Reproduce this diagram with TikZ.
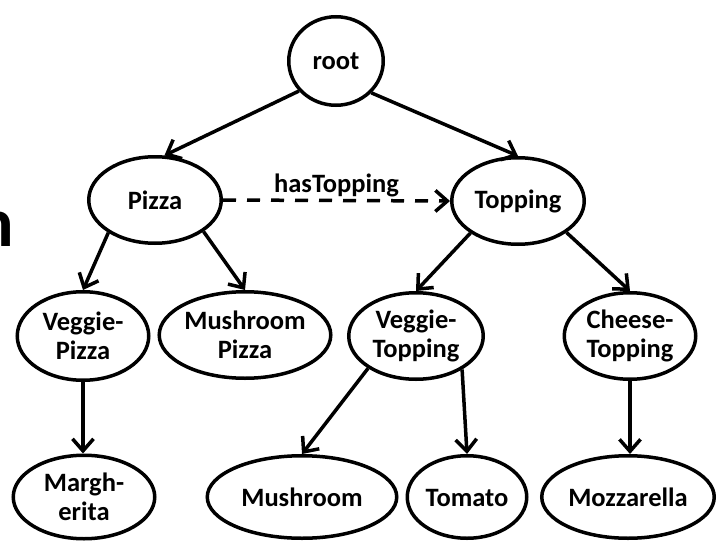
\documentclass[tikz,border=0pt]{standalone}
\usepackage{fontspec}
\setmainfont{Carlito}
\usetikzlibrary{arrows.meta,shapes.geometric}

\tikzset{
  concept/.style={draw=black, line width=3.5pt, ellipse, inner sep=0pt,
    align=center, font=\bfseries\fontsize{26.5}{29}\selectfont},
  isa/.style={line width=3.5pt, -{Straight Barb[length=12pt,width=21pt]}},
  relation/.style={isa, dash pattern=on 13pt off 11pt},
  relname/.style={font=\bfseries\fontsize{26.5}{29}\selectfont, inner sep=2pt}
}

\begin{document}
\begin{tikzpicture}[x=1pt, y=-1pt]
  \useasboundingbox (0,0) rectangle (720,543);

  % partly visible letter at the left border
  \node[font=\bfseries\fontsize{70}{70}\selectfont, anchor=base east, inner sep=0pt]
    (stray) at (14,246) {n};

  % upper levels
  \node[concept, minimum width=94.5pt, minimum height=88.5pt] (root) at (336,61) {root};
  \node[concept, minimum width=132.5pt, minimum height=86.5pt] (pizza) at (155,200) {Pizza};
  \node[concept, minimum width=132.5pt, minimum height=86.5pt] (topping) at (518,201) {Topping};

  % second level
  \node[concept, minimum width=131.5pt, minimum height=88.5pt] (vpizza) at (83,336) {Veggie-\\Pizza};
  \node[concept, minimum width=169.5pt, minimum height=86.5pt] (mpizza) at (245,335) {Mushroom\\Pizza};
  \node[concept, minimum width=134.5pt, minimum height=86.5pt] (vtop) at (416,336) {Veggie-\\Topping};
  \node[concept, minimum width=131.5pt, minimum height=86.5pt] (ctop) at (630,336) {Cheese-\\Topping};

  % leaves
  \node[concept, minimum width=141.5pt, minimum height=83.5pt] (margh) at (84,497) {Margh-\\erita};
  \node[concept, minimum width=189.5pt, minimum height=82.5pt] (mush) at (302,497) {Mushroom};
  \node[concept, minimum width=119.5pt, minimum height=82.5pt] (tomato) at (467,497) {Tomato\vphantom{h}};
  \node[concept, minimum width=172.5pt, minimum height=82.5pt] (mozz) at (628,497) {Mozzarella};

  % subclass links
  \draw[isa] (root.-141) -- (pizza.78);
  \draw[isa] (root.-42) -- (topping.north);
  \draw[isa] (pizza.-145) -- (vpizza.north);
  \draw[isa] (pizza.-33) -- (mpizza.north);
  \draw[isa] (topping.-146) -- (vtop.north);
  \draw[isa] (topping.-33) -- (ctop.north);
  \draw[isa] (vpizza.south) -- (vpizza.south |- margh.north);
  \draw[isa] (vtop.-146) -- (mush.north);
  \draw[isa] (vtop.-36) -- (tomato.north);
  \draw[isa] (ctop.south) -- (ctop.south |- mozz.north);

  % property
  \draw[relation] (pizza.east) -- node[relname, above] {hasTopping} (topping.west);
\end{tikzpicture}
\end{document}
